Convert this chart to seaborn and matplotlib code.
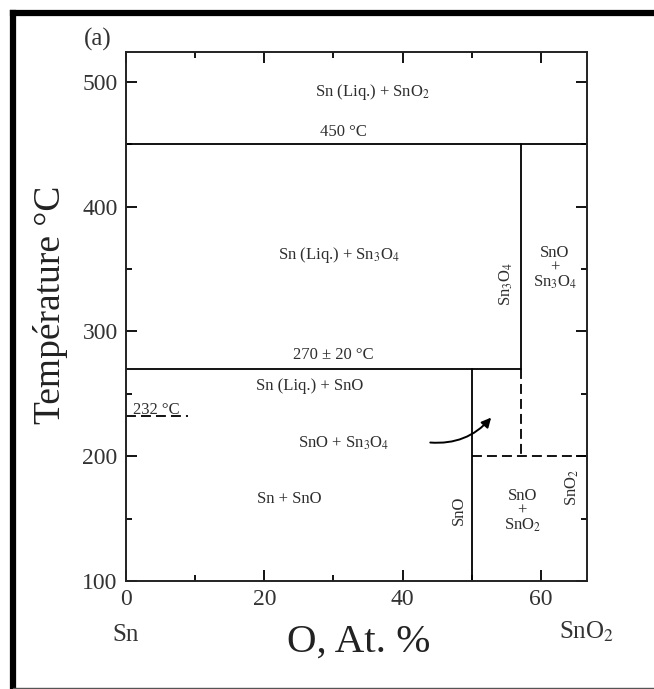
import pandas as pd
import matplotlib.pyplot as plt
from matplotlib.lines import Line2D
from matplotlib.ticker import MultipleLocator
import seaborn as sns

# Diagramme de phases Sn-O (basse température)
# segments des frontières de phases : composition (at.% O) et température (°C)
seg_id = ['t450', 't450', 't270', 't270', 'SnO', 'SnO', 'Sn3O4_a', 'Sn3O4_a',
          'Sn3O4_b', 'Sn3O4_b', 't200', 't200', 't232', 't232']
seg_x = [0, 66.67, 0, 57.14, 50, 50, 57.14, 57.14,
         57.14, 57.14, 50, 66.67, 0, 9]
seg_T = [450, 450, 270, 270, 270, 100, 450, 270,
         270, 200, 200, 200, 232, 232]
seg_kind = ['solide', 'solide', 'solide', 'solide', 'solide', 'solide', 'solide', 'solide',
            'tirets', 'tirets', 'tirets', 'tirets', 'tirets', 'tirets']

df = pd.DataFrame({'seg': seg_id, 'x': seg_x, 'T': seg_T, 'kind': seg_kind})

# étiquettes des domaines
lab_text = ['Sn (Liq.) + SnO$_2$', '450 °C', 'Sn (Liq.) + Sn$_3$O$_4$', '270 ± 20 °C',
            'Sn (Liq.) + SnO', 'SnO + Sn$_3$O$_4$', 'Sn + SnO',
            'SnO\n+\nSn$_3$O$_4$', 'SnO\n+\nSnO$_2$']
lab_x = [35.7, 31.5, 30.8, 30.0, 26.5, 31.5, 23.6, 62.0, 57.3]
lab_T = [492, 460, 361, 281, 256, 210, 166, 351, 156]

# composés (texte vertical)
comp_text = ['Sn$_3$O$_4$', 'SnO', 'SnO$_2$']
comp_x = [55.0, 48.2, 64.6]
comp_T = [338, 157, 175]

xlim = (0, 66.67)
ylim = (100, 524)

sns.set_theme(style='ticks')
plt.rcParams['font.family'] = ['Liberation Serif', 'DejaVu Serif']
plt.rcParams['mathtext.fontset'] = 'stix'

fig = plt.figure(figsize=(6.54, 6.89), dpi=100)
ax = fig.add_axes([0.1927, 0.1567, 0.7049, 0.7678])

sns.lineplot(data=df, x='x', y='T', units='seg', estimator=None, sort=False,
             style='kind', dashes={'solide': '', 'tirets': (5.5, 2.8)},
             color='black', linewidth=1.3, legend=False, ax=ax)

txt_col = '#2e2e2e'
for t, x, y in zip(lab_text, lab_x, lab_T):
    ax.text(x, y, t, ha='center', va='center', fontsize=12, color=txt_col,
            linespacing=0.85)
for t, x, y in zip(comp_text, comp_x, comp_T):
    ax.text(x, y, t, ha='center', va='center', fontsize=12, color=txt_col,
            rotation=90)
ax.text(1.0, 237, '232 °C', ha='left', va='center', fontsize=12, color=txt_col)

# flèche vers le domaine SnO + Sn3O4
ax.annotate('', xy=(52.8, 231), xytext=(44.0, 211),
            arrowprops=dict(arrowstyle='-|>', color='black', lw=1.4,
                            mutation_scale=14, connectionstyle='arc3,rad=0.25',
                            shrinkA=0, shrinkB=0))

ax.set_xlim(*xlim)
ax.set_ylim(*ylim)
ax.xaxis.set_major_locator(MultipleLocator(20))
ax.xaxis.set_minor_locator(MultipleLocator(10))
ax.yaxis.set_major_locator(MultipleLocator(100))
ax.yaxis.set_minor_locator(MultipleLocator(50))
ax.tick_params(which='both', direction='in', top=True, right=True,
               width=1.3, color='black', labelcolor='#333333', labelsize=17)
ax.tick_params(which='major', length=8, pad=6)
ax.tick_params(which='minor', length=4.5)
for s in ax.spines.values():
    s.set_linewidth(1.4)
    s.set_color('#222222')

ax.set_xlabel('O, At. %', fontsize=29.5, color='#222222')
ax.set_ylabel('Température °C', fontsize=27, color='#222222')
ax.xaxis.set_label_coords(0.505, -0.08)
ax.yaxis.set_label_coords(-0.125, 0.522)

ax.text(0, -0.102, 'Sn', transform=ax.get_xaxis_transform(), ha='center', va='center',
        fontsize=18, color='#333333')
ax.text(66.67, -0.096, 'SnO$_2$', transform=ax.get_xaxis_transform(), ha='center',
        va='center', fontsize=18, color='#333333')
ax.text(-0.061, 1.023, '(a)', transform=ax.transAxes, ha='center', va='center',
        fontsize=18, color='#333333')

# cadre de la figure
fig.add_artist(Line2D([0.0199, 0.0199], [0.0, 0.981], transform=fig.transFigure,
                      color='black', lw=4.5, solid_capstyle='projecting'))
fig.add_artist(Line2D([0.0199, 1.0], [0.981, 0.981], transform=fig.transFigure,
                      color='black', lw=4.5, solid_capstyle='projecting'))
fig.add_artist(Line2D([0.0199, 1.0], [0.0015, 0.0015], transform=fig.transFigure,
                      color='#555555', lw=1.0))

fig.savefig('out.png', dpi=100)
